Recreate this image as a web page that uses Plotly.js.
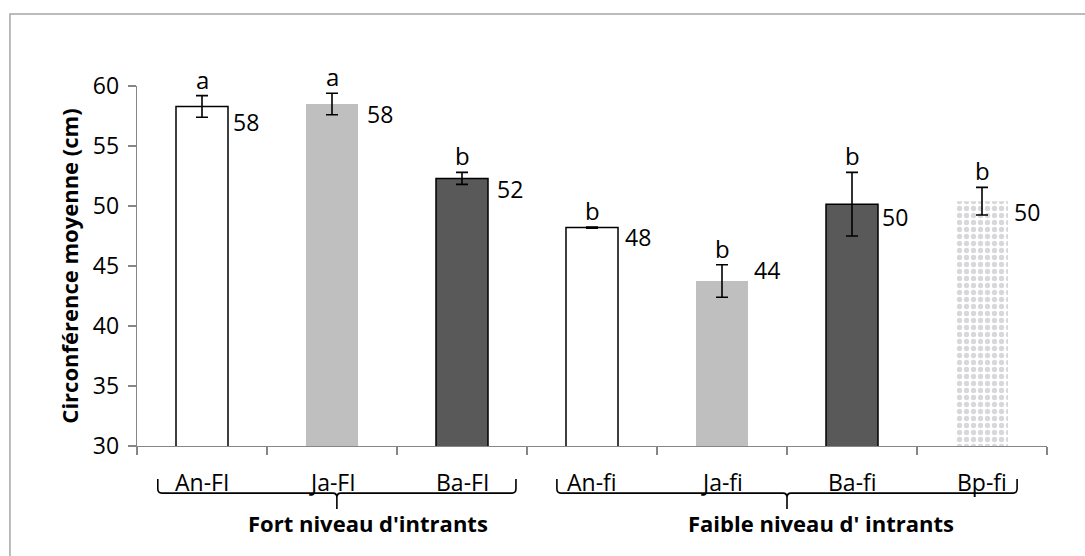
<!DOCTYPE html>
<html><head><meta charset="utf-8">
<script src="https://cdn.plot.ly/plotly-3.0.1.min.js"></script>
<style>html,body{margin:0;padding:0;background:#fff}#chart{width:1085px;height:556px}</style>
</head><body><div id="chart"></div>
<script>
// ---- data ----
const categories = ["An-FI", "Ja-FI", "Ba-FI", "An-fi", "Ja-fi", "Ba-fi", "Bp-fi"];
const means      = [58.3, 58.5, 52.3, 48.2, 43.75, 50.15, 50.4];
const errors     = [0.9, 0.9, 0.5, 0.05, 1.35, 2.65, 1.15];
const valueLabels = ["58", "58", "52", "48", "44", "50", "50"];
const letters    = ["a", "a", "b", "b", "b", "b", "b"];
const groups     = ["Fort niveau d'intrants", "Faible niveau d' intrants"];
const groupSizes = [3, 4];
const yTicks     = [30, 35, 40, 45, 50, 55, 60];

// ---- styles ----
const fillColors = ["#ffffff", "#bfbfbf", "#595959", "#ffffff", "#bfbfbf", "#595959", "#d8d8dc"];
const lineWidths = [1.5, 0, 1.5, 1.5, 0, 1.5, 0];
const labelNudgeX = [5, 9, 9, 7, 6, 4, 6];
const labelNudgeY = [-16, -10, -11, -9, 11, -13, -11];
const bracketInsetL = [0.16, 0.23];
const bracketInsetR = [0.085, 0.23];
const groupLabelShift = [31, 34];
const FONT = "Open Sans, Noto Sans, sans-serif";
const halfBarPx = 26;

const xIdx = categories.map((c, i) => i);

const trace = {
  type: "bar",
  x: xIdx,
  y: means,
  width: 0.4,
  marker: {
    color: fillColors,
    line: { color: "#000000", width: lineWidths },
    pattern: {
      shape: categories.map((c, i) => i === 6 ? "." : ""),
      fgcolor: "#b0b0b6",
      size: 7,
      solidity: 0.45
    }
  },
  error_y: { type: "data", array: errors, visible: true, color: "#000", thickness: 1.6, width: 6 },
  hoverinfo: "skip"
};

const annotations = [];
categories.forEach((c, i) => {
  annotations.push({
    x: i, y: means[i], xref: "x", yref: "y", text: valueLabels[i], showarrow: false,
    xanchor: "left", yanchor: "middle", xshift: halfBarPx + labelNudgeX[i] - 2, yshift: labelNudgeY[i],
    font: { family: FONT, size: 23, color: "#000" }
  });
  annotations.push({
    x: i, y: means[i] + errors[i], xref: "x", yref: "y", text: letters[i], showarrow: false,
    xanchor: "center", yanchor: "bottom", yshift: -2,
    font: { family: FONT, size: 24, color: "#000" }
  });
  annotations.push({
    x: i, y: -0.1, xref: "x", yref: "paper", text: c, showarrow: false,
    xanchor: "center", yanchor: "middle",
    font: { family: FONT, size: 23, color: "#000" }
  });
});

const shapes = [];
let start = 0;
const yTop = -0.092, yMid = -0.131, ySpike = -0.175;
groups.forEach((g, gi) => {
  const n = groupSizes[gi];
  const x0 = start - 0.5 + bracketInsetL[gi];
  const x1 = start + n - 0.5 - bracketInsetR[gi];
  const xm = (x0 + x1) / 2;
  const c = 0.03;
  shapes.push({
    type: "path", xref: "x", yref: "paper",
    path: `M ${x0} ${yTop} L ${x0} ${yMid + 0.012} Q ${x0} ${yMid} ${x0 + c} ${yMid} L ${xm - c} ${yMid} Q ${xm} ${yMid} ${xm} ${yMid - 0.012} L ${xm} ${ySpike} M ${xm} ${yMid - 0.012} Q ${xm} ${yMid} ${xm + c} ${yMid} L ${x1 - c} ${yMid} Q ${x1} ${yMid} ${x1} ${yMid + 0.012} L ${x1} ${yTop}`,
    line: { color: "#000", width: 1.6 }
  });
  annotations.push({
    x: xm, y: -0.214, xref: "x", yref: "paper", text: "<b>" + g + "</b>", showarrow: false,
    xanchor: "center", yanchor: "middle", xshift: groupLabelShift[gi],
    font: { family: FONT, size: 22, color: "#000" }
  });
  start += n;
});

shapes.push({
  type: "rect", xref: "paper", yref: "paper",
  x0: -0.1396, x1: 1.12, y0: -0.4, y1: 1.2,
  line: { color: "#a6a6a6", width: 1.5 }, fillcolor: "rgba(0,0,0,0)", layer: "below"
});

const boundaries = [];
for (let i = 0; i <= categories.length; i++) boundaries.push(i - 0.5);

const layout = {
  width: 1085, height: 556,
  margin: { l: 137, r: 38, t: 86, b: 110 },
  paper_bgcolor: "#fff", plot_bgcolor: "#fff",
  showlegend: false,
  xaxis: {
    type: "linear", range: [-0.5, categories.length - 0.5],
    tickmode: "array", tickvals: boundaries, ticktext: boundaries.map(() => ""),
    ticks: "outside", ticklen: 8, tickcolor: "#868686", tickwidth: 1.3,
    showline: true, linecolor: "#868686", linewidth: 1.3,
    showgrid: false, zeroline: false, fixedrange: true
  },
  yaxis: {
    range: [30, 60], tickmode: "array", tickvals: yTicks,
    ticks: "outside", ticklen: 8, tickcolor: "#868686", tickwidth: 1.3,
    showline: true, linecolor: "#868686", linewidth: 1.3,
    showgrid: false, zeroline: false, ticklabelstandoff: 4,
    tickfont: { family: FONT, size: 23, color: "#000" },
    title: { text: "<b>Circonférence moyenne (cm)</b>", standoff: 8, font: { family: FONT, size: 22, color: "#000" } },
    fixedrange: true
  },
  annotations: annotations,
  shapes: shapes
};

Plotly.newPlot("chart", [trace], layout, { staticPlot: true, displayModeBar: false });
</script>
</body></html>
